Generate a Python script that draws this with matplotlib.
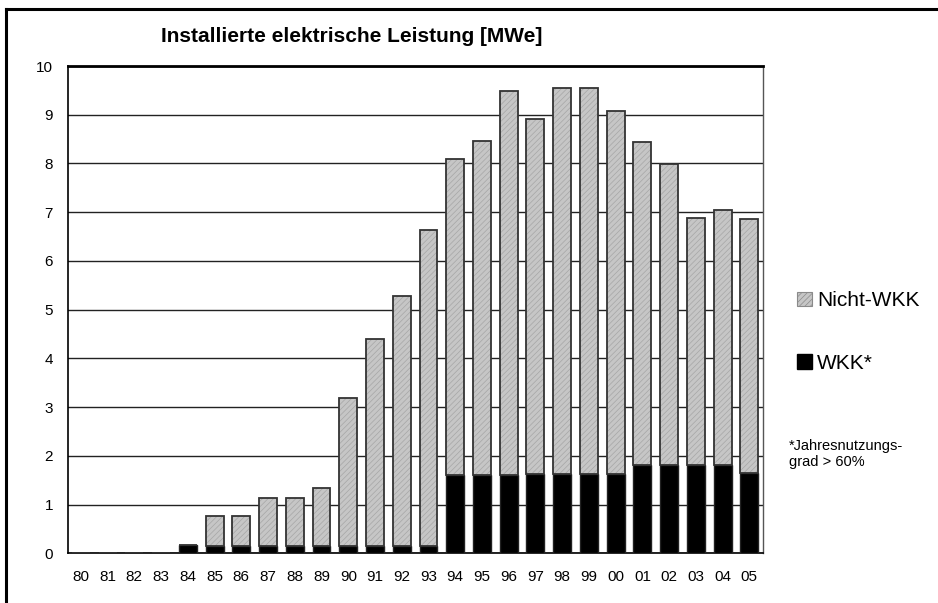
import matplotlib
matplotlib.use("Agg")
import matplotlib.pyplot as plt
from matplotlib.patches import Patch
from matplotlib.lines import Line2D
import numpy as np

plt.rcParams['font.family'] = ['Liberation Sans', 'DejaVu Sans']

years = ["80", "81", "82", "83", "84", "85", "86", "87", "88", "89", "90", "91", "92",
         "93", "94", "95", "96", "97", "98", "99", "00", "01", "02", "03", "04", "05"]
wkk = [0, 0, 0, 0, 0.18, 0.16, 0.16, 0.16, 0.16, 0.16, 0.16, 0.16, 0.16,
       0.16, 1.61, 1.61, 1.61, 1.62, 1.63, 1.63, 1.63, 1.82, 1.82, 1.82, 1.82, 1.64]
nicht_wkk = [0, 0, 0, 0, 0, 0.60, 0.60, 0.97, 0.97, 1.19, 3.02, 4.24, 5.11,
             6.47, 6.48, 6.86, 7.88, 7.30, 7.91, 7.91, 7.45, 6.63, 6.16, 5.07, 5.23, 5.23]
title = "Installierte elektrische Leistung [MWe]"
footnote = "*Jahresnutzungs-\ngrad > 60%"

W, H = 938, 603
fig = plt.figure(figsize=(W / 100, H / 100), dpi=100)
ax = fig.add_axes([67.5 / W, 1 - 553.3 / H, (762.7 - 67.5) / W, (553.3 - 66) / H])

x = np.arange(len(years))
bw = 0.67
plt.rcParams['hatch.linewidth'] = 0.5

ax.bar(x, wkk, bw, color='black', edgecolor='#222222', linewidth=1.0, zorder=3)
ax.bar(x, nicht_wkk, bw, bottom=wkk, color='#c6c6c6', edgecolor='#a6a6a6',
       hatch='//////', linewidth=0, zorder=3)
ax.bar(x, nicht_wkk, bw, bottom=wkk, fill=False, edgecolor='#333333',
       linewidth=1.3, zorder=4)

ax.set_xlim(-0.5, len(years) - 0.5)
ax.set_ylim(0, 10)
ax.set_yticks(range(0, 11))
ax.set_xticks(x)
ax.set_xticklabels(years)
ax.tick_params(axis='both', length=0, labelsize=11)
ax.tick_params(axis='y', pad=10.5)
ax.tick_params(axis='x', pad=12)
ax.yaxis.grid(True, color='#222222', linewidth=1.0, zorder=0)
ax.set_axisbelow(True)
for s in ['left', 'bottom']:
    ax.spines[s].set_linewidth(1.2)
    ax.spines[s].set_color('black')
ax.spines['top'].set_linewidth(2.0)
ax.spines['top'].set_color('black')
ax.spines['right'].set_linewidth(1.0)
ax.spines['right'].set_color('#555555')

fig.text(352 / W, 1 - 36 / H, title, ha='center', va='center',
         fontsize=15, fontweight='bold')

handles = [Patch(facecolor='#c6c6c6', edgecolor='#8a8a8a', hatch='//////', linewidth=0.8),
           Patch(facecolor='black', edgecolor='black')]
fig.legend(handles, ['Nicht-WKK', 'WKK*'], loc='center left',
           bbox_to_anchor=(797 / W, 1 - 332 / H), frameon=False,
           fontsize=15, handlelength=0.7, handleheight=0.7,
           handletextpad=0.25, labelspacing=2.1, borderaxespad=0, borderpad=0)

fig.text(789 / W, 1 - 454 / H, footnote, ha='left', va='center',
         fontsize=10.5, linespacing=1.2)

fig.add_artist(Line2D([6 / W, 6 / W], [0, 1 - 9 / H], transform=fig.transFigure,
                      color='black', linewidth=2.2))
fig.add_artist(Line2D([6 / W, 1], [1 - 9 / H, 1 - 9 / H], transform=fig.transFigure,
                      color='black', linewidth=2.2))

fig.savefig('out.png', dpi=100)
